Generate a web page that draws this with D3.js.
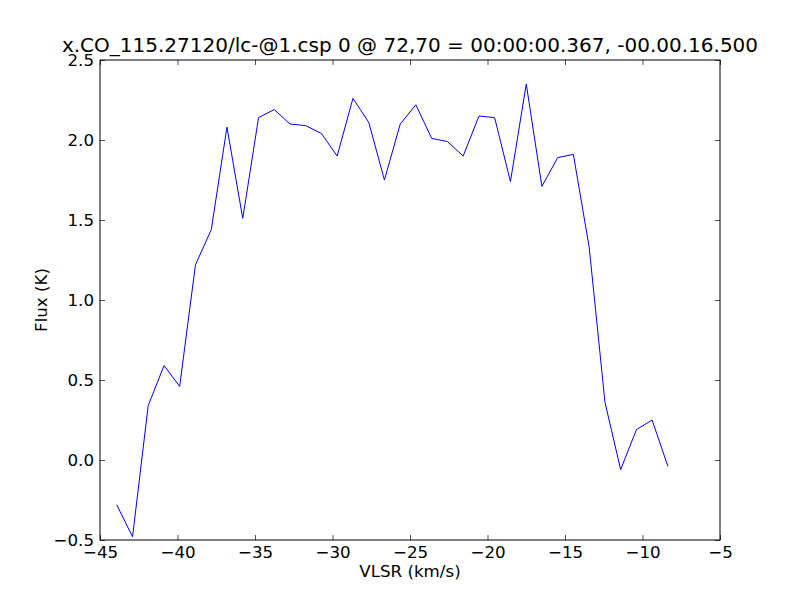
<!DOCTYPE html>
<html>
<head>
<meta charset="utf-8">
<script src="https://cdn.jsdelivr.net/npm/d3@7"></script>
<style>
  body { margin: 0; background: #fff; }
  text { font-family: "DejaVu Sans", sans-serif; }
</style>
</head>
<body>
<svg id="chart" width="800" height="600"></svg>
<script>
const title = "x.CO_115.27120/lc-@1.csp 0 @ 72,70 = 00:00:00.367, -00.00.16.500";
const xLabel = "VLSR (km/s)";
const yLabel = "Flux (K)";
const velocity = [-43.92, -42.90, -41.89, -40.87, -39.86, -38.84, -37.82, -36.81, -35.79, -34.77,
  -33.76, -32.74, -31.73, -30.71, -29.70, -28.68, -27.66, -26.65, -25.63, -24.62,
  -23.60, -22.58, -21.57, -20.55, -19.54, -18.52, -17.50, -16.49, -15.47, -14.46,
  -13.44, -12.42, -11.41, -10.39, -9.38, -8.36];
const flux = [-0.28, -0.48, 0.34, 0.59, 0.46, 1.22, 1.44, 2.08, 1.51, 2.14,
  2.19, 2.10, 2.09, 2.04, 1.90, 2.26, 2.11, 1.75, 2.10, 2.22,
  2.01, 1.99, 1.90, 2.15, 2.14, 1.74, 2.35, 1.71, 1.89, 1.91,
  1.33, 0.36, -0.06, 0.19, 0.25, -0.04];
const xTicks = [-45, -40, -35, -30, -25, -20, -15, -10, -5];
const yTicks = [-0.5, 0.0, 0.5, 1.0, 1.5, 2.0, 2.5];

const svg = d3.select("#chart");
const mLeft = 100, mTop = 60, mRight = 720, mBottom = 540;
const x = d3.scaleLinear().domain([-45, -5]).range([mLeft, mRight]);
const y = d3.scaleLinear().domain([-0.5, 2.5]).range([mBottom, mTop]);

svg.append("rect").attr("width", 800).attr("height", 600).attr("fill", "#fff");

const line = d3.line().x((d, i) => x(velocity[i])).y(d => y(d));
svg.append("path").datum(flux)
  .attr("d", line).attr("fill", "none").attr("stroke", "#0000ff").attr("stroke-width", 1);

const tickLen = 5;
const fs = 16.67;
function styleAxis(g) {
  g.select(".domain").remove();
  g.selectAll(".tick line").attr("stroke", "#000").attr("stroke-width", 0.7);
  g.selectAll(".tick text").attr("fill", "#000").attr("font-size", fs).attr("font-family", "DejaVu Sans");
}
svg.append("g").attr("transform", `translate(0,${mBottom})`)
  .call(d3.axisBottom(x).tickValues(xTicks).tickFormat(d3.format("d")).tickSizeInner(-tickLen).tickSizeOuter(0).tickPadding(6))
  .call(styleAxis);
svg.append("g").attr("transform", `translate(0,${mTop})`)
  .call(d3.axisTop(x).tickValues(xTicks).tickFormat("").tickSizeInner(-tickLen).tickSizeOuter(0))
  .call(styleAxis);
svg.append("g").attr("transform", `translate(${mLeft},0)`)
  .call(d3.axisLeft(y).tickValues(yTicks).tickFormat(d3.format(".1f")).tickSizeInner(-tickLen).tickSizeOuter(0).tickPadding(6))
  .call(styleAxis);
svg.append("g").attr("transform", `translate(${mRight},0)`)
  .call(d3.axisRight(y).tickValues(yTicks).tickFormat("").tickSizeInner(-tickLen).tickSizeOuter(0))
  .call(styleAxis);

svg.append("rect").attr("x", mLeft).attr("y", mTop).attr("width", mRight - mLeft).attr("height", mBottom - mTop)
  .attr("fill", "none").attr("stroke", "#000").attr("stroke-width", 1);

svg.append("text").attr("x", (mLeft + mRight) / 2).attr("y", 52).attr("text-anchor", "middle")
  .attr("font-size", 20).text(title);
svg.append("text").attr("x", (mLeft + mRight) / 2).attr("y", 577).attr("text-anchor", "middle")
  .attr("font-size", fs).text(xLabel);
svg.append("text").attr("transform", `translate(47,${(mTop + mBottom) / 2}) rotate(-90)`).attr("text-anchor", "middle")
  .attr("font-size", fs).text(yLabel);
</script>
</body>
</html>
